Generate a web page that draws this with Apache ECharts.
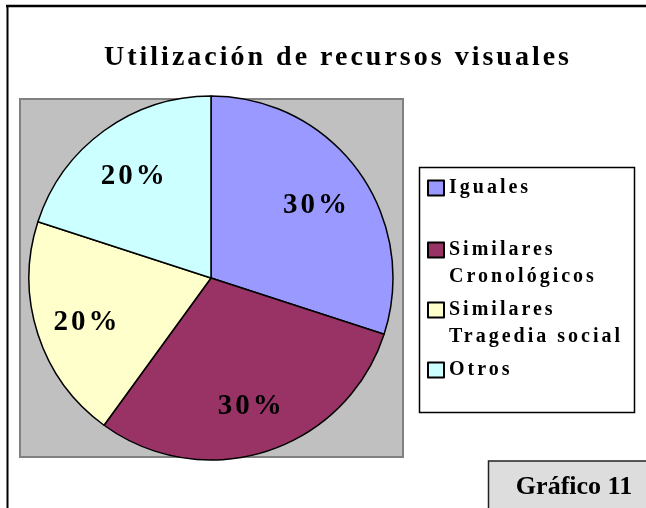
<!DOCTYPE html>
<html>
<head>
<meta charset="utf-8">
<script src="https://cdn.jsdelivr.net/npm/echarts@6/dist/echarts.min.js"></script>
<style>
  html, body { margin: 0; padding: 0; background: #fff; }
  #chart { width: 646px; height: 508px; }
</style>
</head>
<body>
<div id="chart"></div>
<script>
const titleText = 'Utilización de recursos visuales'
const categories = ['Iguales', 'Similares Cronológicos', 'Similares Tragedia social', 'Otros']
const shares = [30, 30, 20, 20]
const sliceColors = ['#9999FF', '#993366', '#FFFFCC', '#CCFFFF']
const captionText = 'Gráfico 11'

const serif = '"Liberation Serif", "Times New Roman", serif'

// extra vertical room around single-line legend entries
const legendPad = { 'Iguales': [29, 0], 'Otros': [27, 0] }

// the original uses spaced-out lettering (except the caption box)
const nativeFillText = CanvasRenderingContext2D.prototype.fillText
CanvasRenderingContext2D.prototype.fillText = function (text, x, y, maxWidth) {
  this.letterSpacing = text === captionText ? '0px' : '3px'
  return maxWidth === undefined
    ? nativeFillText.call(this, text, x, y)
    : nativeFillText.call(this, text, x, y, maxWidth)
}

const chart = echarts.init(document.getElementById('chart'))

const pieData = categories.map((name, i) => ({
  name: name,
  value: shares[i],
  itemStyle: { color: sliceColors[i] }
}))

chart.setOption({
  animation: false,
  title: {
    text: titleText,
    left: 338,
    top: 44,
    padding: 0,
    textAlign: 'center',
    textStyle: { fontFamily: serif, fontWeight: 'bold', fontSize: 28, color: '#000' }
  },
  legend: {
    orient: 'vertical',
    left: 427,
    top: 145.5,
    padding: 0,
    icon: 'rect',
    itemWidth: 16,
    itemHeight: 15,
    itemGap: -21,
    selectedMode: false,
    // wrap at the first space; leading blank line keeps the square beside the first line
    formatter: name => {
      const i = name.indexOf(' ')
      return i < 0 ? name : '\n' + name.slice(0, i) + '\n' + name.slice(i + 1)
    },
    textStyle: {
      fontFamily: serif, fontWeight: 'bold', fontSize: 20, lineHeight: 27,
      color: '#000', backgroundColor: 'transparent'
    },
    data: categories.map(name => ({
      name: name,
      textStyle: { padding: legendPad[name] || 0 }
    }))
  },
  graphic: [
    { type: 'line', shape: { x1: 6, y1: 6, x2: 646, y2: 6 }, style: { stroke: '#000', lineWidth: 2.5 } },
    { type: 'line', shape: { x1: 7.5, y1: 5, x2: 7.5, y2: 508 }, style: { stroke: '#000', lineWidth: 2 } },
    { type: 'rect', shape: { x: 20, y: 99, width: 383, height: 358 }, style: { fill: '#C0C0C0', stroke: '#808080', lineWidth: 2 } },
    { type: 'rect', shape: { x: 419.5, y: 167.5, width: 215, height: 245 }, style: { fill: '#fff', stroke: '#000', lineWidth: 1.5 } },
    { type: 'rect', shape: { x: 488.5, y: 461, width: 170, height: 60 }, style: { fill: '#DDDDDD', stroke: '#222', lineWidth: 1.5 } },
    {
      type: 'text', x: 574, y: 487,
      style: {
        text: captionText, fill: '#000', align: 'center', verticalAlign: 'middle',
        font: 'bold 26px ' + serif
      }
    }
  ],
  series: [
    {
      name: 'recursos',
      type: 'pie',
      center: [211, 278],
      radius: 182,
      startAngle: 90,
      clockwise: true,
      label: { show: false },
      labelLine: { show: false },
      emphasis: { disabled: true },
      itemStyle: { borderColor: '#000', borderWidth: 1.5 },
      data: pieData
    },
    {
      // label layer: ring middle sits at ~70% of the radius like the original
      name: 'etiquetas',
      type: 'pie',
      center: [211, 278],
      radius: [73, 182],
      startAngle: 90,
      clockwise: true,
      silent: true,
      z: 3,
      itemStyle: { color: 'rgba(0,0,0,0)', borderWidth: 0 },
      emphasis: { disabled: true },
      labelLine: { show: false },
      label: {
        show: true,
        position: 'inside',
        formatter: '{c}%',
        offset: [0, 4],
        fontFamily: serif,
        fontWeight: 'bold',
        fontSize: 29,
        color: '#000',
        textBorderWidth: 0
      },
      data: categories.map((name, i) => ({ name: name, value: shares[i] }))
    }
  ]
})
</script>
</body>
</html>
